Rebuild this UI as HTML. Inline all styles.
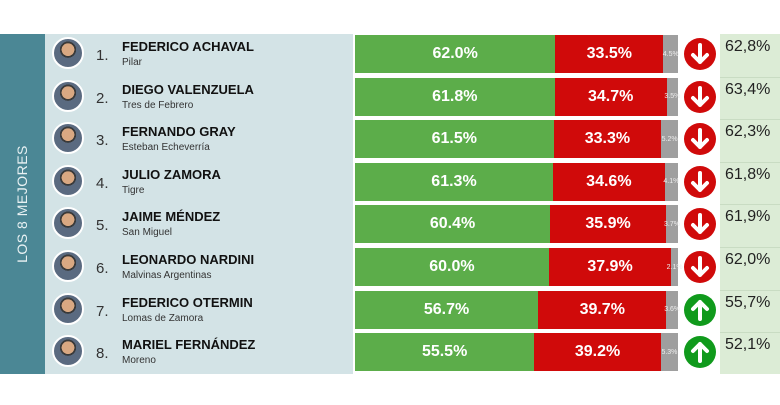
<!DOCTYPE html><html><head><style>
body{margin:0;width:780px;height:405px;background:#fff;font-family:"Liberation Sans",sans-serif;position:relative;overflow:hidden}
.a{position:absolute}
.side{left:0;top:34px;width:45px;height:340px;background:#4b8795}
.side span{position:absolute;left:22px;top:170px;transform:translate(-50%,-50%) rotate(-90deg);color:#e8f1f3;font-size:14px;white-space:nowrap;letter-spacing:0.5px}
.lp{left:45px;top:34px;width:308px;height:340px;background:#d3e3e6}
.rp{left:720px;top:34px;width:60px;height:340px;background:#dcecd6}
.ph{width:32px;height:32px;border-radius:50%;background:radial-gradient(circle at 50% 38%,#d9a882 0 28%,#3a3a3a 29% 36%,#5a6a80 37%);border:2px solid #fff;box-sizing:border-box}
.n{font-size:15px;color:#333}
.nm{font-size:13px;font-weight:bold;color:#111}
.sb{font-size:10px;color:#333}
.b{height:38px;color:#fff;font-weight:bold;font-size:16px;display:flex;align-items:center;justify-content:center;box-sizing:border-box}
.g{background:#5cad4a}.r{background:#d00a0a}.y{background:#9f9f9f;font-size:7px;color:#eee;font-weight:normal}
.c{width:32px;height:32px;border-radius:50%}
.pv{font-size:16px;color:#222}
.sep{left:720px;width:60px;height:1px;background:#c9dcc3}
</style></head><body>
<div class="a side"><span>LOS 8 MEJORES</span></div>
<div class="a lp"></div><div class="a rp"></div>
<div id="rows"></div>
<script>
var d=[["FEDERICO ACHAVAL","Pilar",62.0,33.5,4.5,0,"62,8%"],["DIEGO VALENZUELA","Tres de Febrero",61.8,34.7,3.5,0,"63,4%"],["FERNANDO GRAY","Esteban Echeverría",61.5,33.3,5.2,0,"62,3%"],["JULIO ZAMORA","Tigre",61.3,34.6,4.1,0,"61,8%"],["JAIME MÉNDEZ","San Miguel",60.4,35.9,3.7,0,"61,9%"],["LEONARDO NARDINI","Malvinas Argentinas",60.0,37.9,2.1,0,"62,0%"],["FEDERICO OTERMIN","Lomas de Zamora",56.7,39.7,3.6,1,"55,7%"],["MARIEL FERNÁNDEZ","Moreno",55.5,39.2,5.3,1,"52,1%"]];
var h="",s=3.23;
var dn='<svg width="32" height="32"><path d="M16 7V24M9 17L16 24L23 17" stroke="#fff" stroke-width="4" fill="none" stroke-linecap="round" stroke-linejoin="round"/></svg>';
var up='<svg width="32" height="32"><path d="M16 25V8M9 15L16 8L23 15" stroke="#fff" stroke-width="4" fill="none" stroke-linecap="round" stroke-linejoin="round"/></svg>';
d.forEach(function(r,i){var y=34+i*42.6;var x1=355+r[2]*s,x2=x1+r[3]*s,x3=355+323;
h+='<div class="a ph" style="left:52px;top:'+(y+3)+'px"></div>';
h+='<div class="a n" style="left:96px;top:'+(y+13)+'px">'+(i+1)+'.</div>';
h+='<div class="a nm" style="left:122px;top:'+(y+5)+'px">'+r[0]+'</div>';
h+='<div class="a sb" style="left:122px;top:'+(y+23)+'px">'+r[1]+'</div>';
h+='<div class="a b g" style="left:355px;top:'+(y+1)+'px;width:'+(x1-355)+'px">'+r[2].toFixed(1)+'%</div>';
h+='<div class="a b r" style="left:'+x1+'px;top:'+(y+1)+'px;width:'+(x2-x1)+'px">'+r[3].toFixed(1)+'%</div>';
h+='<div class="a b y" style="left:'+x2+'px;top:'+(y+1)+'px;width:'+(x3-x2)+'px">'+r[4]+'%</div>';
h+='<div class="a c" style="left:684px;top:'+(y+4)+'px;background:'+(r[5]?'#109a1c':'#d00a0a')+'">'+(r[5]?up:dn)+'</div>';
h+='<div class="a pv" style="left:725px;top:'+(y+4)+'px">'+r[6]+'</div>';
if(i)h+='<div class="a sep" style="top:'+y+'px"></div>';});
document.getElementById("rows").innerHTML=h;
</script>
</body></html>
